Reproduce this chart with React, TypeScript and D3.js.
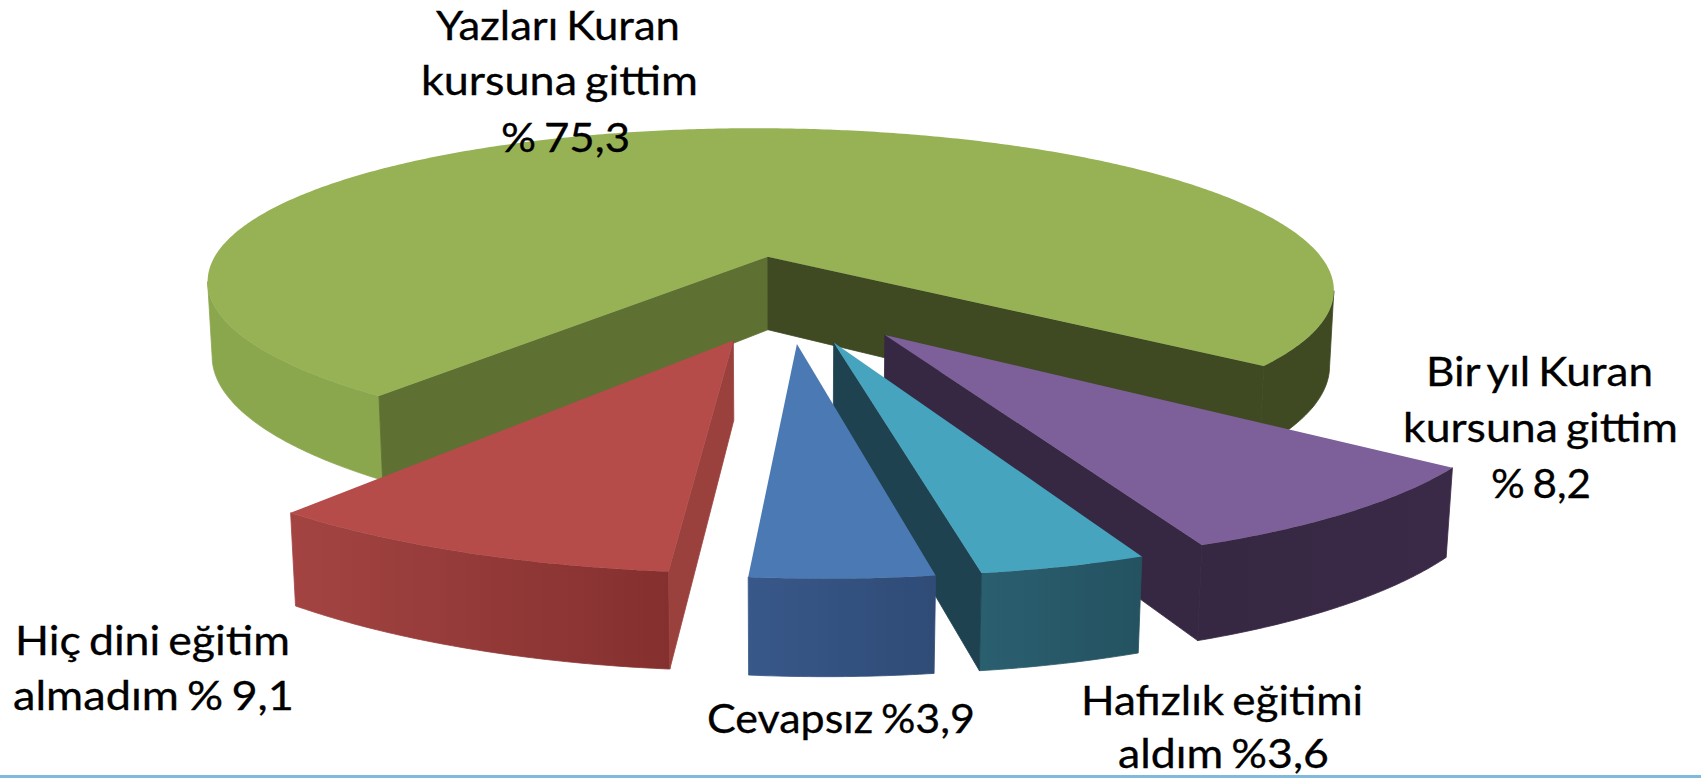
import React from 'react';
import * as d3 from 'd3';

// slices, clockwise from the big green one
const categories = ['Yazları Kuran kursuna gittim', 'Bir yıl Kuran kursuna gittim', 'Hafızlık eğitimi aldım', 'Cevapsız', 'Hiç dini eğitim almadım'];
const values = [75.3, 8.2, 3.6, 3.9, 9.1];

const topColors = ['#96b255', '#7d5f9a', '#46a4be', '#4b79b3', '#b64c4a'];
const wallFrom = ['#8ba74e', '#362743', '#2a5f70', '#38588a', '#a34442'];
const wallTo = ['#3f4a22', '#3a2a47', '#245260', '#2f4b76', '#84302f'];
const startCut = ['#5e7032', '#362743', '#1e4250', '#2f4b76', '#9a413e'];
const endCut = ['#3f4a22', '#362743', '#1e4250', '#38588a', '#a34442'];

const labelLines = ['Yazları Kuran', 'kursuna gittim', '% 75,3', 'Bir yıl Kuran', 'kursuna gittim', '% 8,2', 'Hafızlık eğitimi', 'aldım %3,6', 'Cevapsız %3,9', 'Hiç dini eğitim', 'almadım % 9,1'];
// x left, x right, baseline
const labelBoxes = [
  [436, 680, 40], [421, 698, 95], [501, 630, 152],
  [1426, 1653, 386], [1403, 1678, 442], [1491, 1591, 498],
  [1081, 1363, 715], [1118, 1329, 768],
  [707, 975, 733],
  [15, 290, 655], [13, 294, 710],
];

const width = 1701;
const height = 778;
const cx = 788;
const cy = 298;
const R = 581;
const A = 168;
const H = 77;
const k = 0.195;
const m = 0.008;
const shear = 20;
const explode = 0.26;
const rotation = (218.5 * Math.PI) / 180;

const project = (u: number, v: number, z: number): [number, number] => {
  const w = 1 / (1 - k * v + m * z);
  return [cx + (R * u + shear * v) * w, cy + (A * v + H * z) * w];
};

const arcs = d3.pie<number>().sort(null).value((d) => d).startAngle(rotation).endAngle(rotation + 2 * Math.PI)(values);
const line = d3.line();

const App = () => {
  const slices = arcs.map((arc) => {
    const mid = (arc.startAngle + arc.endAngle) / 2;
    const ou = explode * Math.sin(mid);
    const ov = -explode * Math.cos(mid);
    const at = (a: number, r: number, z: number) => project(ou + r * Math.sin(a), ov - r * Math.cos(a), z);
    const n = Math.ceil((arc.endAngle - arc.startAngle) / 0.01);
    const angles = d3.range(n + 1).map((i) => arc.startAngle + ((arc.endAngle - arc.startAngle) * i) / n);
    const rim = angles.map((a) => at(a, 1, 0));

    // outer wall only where the rim runs right to left on screen, i.e. the part facing us
    const runs: number[][] = [];
    angles.slice(1).forEach((a, i) => {
      if (rim[i + 1][0] >= rim[i][0]) return;
      const last = runs[runs.length - 1];
      if (last && at(last[last.length - 1], 1, 0)[0] === rim[i][0]) last.push(a);
      else runs.push([angles[i], a]);
    });
    const walls = runs.map((run) => line([...run.map((a) => at(a, 1, 0)), ...[...run].reverse().map((a) => at(a, 1, 1))]) + 'Z');

    return {
      top: line([at(0, 0, 0), ...rim]) + 'Z',
      walls,
      cutStart: Math.sin(arc.startAngle) < 0 ? line([at(0, 0, 0), at(0, 0, 1), at(arc.startAngle, 1, 1), at(arc.startAngle, 1, 0)]) + 'Z' : null,
      cutEnd: Math.sin(arc.endAngle) > 0 ? line([at(0, 0, 0), at(0, 0, 1), at(arc.endAngle, 1, 1), at(arc.endAngle, 1, 0)]) + 'Z' : null,
      x0: d3.min(rim, (p) => p[0]) as number,
      x1: d3.max(rim, (p) => p[0]) as number,
    };
  });

  return (
    <svg width={width} height={height} style={{ position: 'absolute', left: 0, top: 0, background: '#fff' }}>
      <defs>
        {slices.map((s, i) => (
          <linearGradient key={i} id={`wall${i}`} gradientUnits="userSpaceOnUse" x1={s.x0} x2={s.x1} y1={0} y2={0}>
            <stop offset="0" stopColor={wallFrom[i]} />
            {i === 0 && <stop offset="0.5" stopColor={wallFrom[i]} />}
            {i === 0 && <stop offset="0.5" stopColor={wallTo[i]} />}
            <stop offset="1" stopColor={wallTo[i]} />
          </linearGradient>
        ))}
      </defs>
      {slices.map((s, i) => (
        <g key={categories[i]}>
          {s.walls.map((d, j) => (
            <path key={j} d={d} fill={`url(#wall${i})`} stroke={`url(#wall${i})`} strokeWidth={0.8} />
          ))}
          {s.cutStart && <path d={s.cutStart} fill={startCut[i]} stroke={startCut[i]} strokeWidth={0.8} />}
          {s.cutEnd && <path d={s.cutEnd} fill={endCut[i]} stroke={endCut[i]} strokeWidth={0.8} />}
          <path d={s.top} fill={topColors[i]} />
        </g>
      ))}
      {labelLines.map((t, i) => (
        <text
          key={i}
          x={labelBoxes[i][0]}
          y={labelBoxes[i][2]}
          textLength={labelBoxes[i][1] - labelBoxes[i][0]}
          lengthAdjust="spacingAndGlyphs"
          fontFamily="Lato"
          fontSize={40}
          wordSpacing={-3}
          fill="#000"
          stroke="#000"
          strokeWidth={0.3}
        >
          {t}
        </text>
      ))}
      <rect x={0} y={775} width={width} height={3} fill="#7fb9db" />
    </svg>
  );
};

export default App;
